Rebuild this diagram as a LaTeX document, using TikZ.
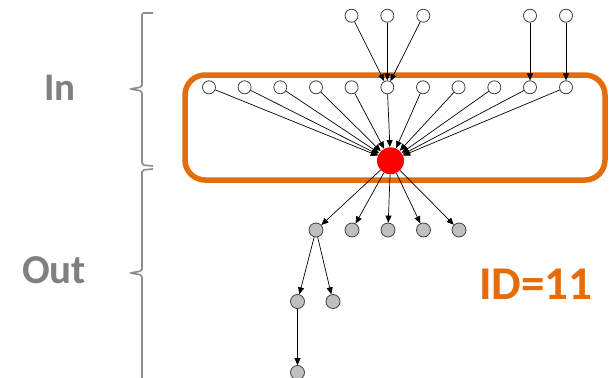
\documentclass[tikz,border=0pt]{standalone}
\usepackage{fontspec}
\setmainfont{Carlito}
\usetikzlibrary{arrows.meta}
\definecolor{accent}{RGB}{228,108,10}
\definecolor{labelgray}{RGB}{128,128,128}
\definecolor{bracegray}{RGB}{140,140,140}
\definecolor{outfill}{RGB}{191,191,191}
\tikzset{
  vnode/.style={circle, draw=black!75, line width=0.8pt, fill=white, inner sep=0pt, minimum size=13pt},
  onode/.style={circle, draw=black!75, line width=0.8pt, fill=outfill, inner sep=0pt, minimum size=14pt},
  hub/.style={circle, fill=red, inner sep=0pt, minimum size=27pt},
  edge/.style={draw=black, line width=0.7pt, -{Triangle[length=7pt,width=6pt]}},
  brace/.style={draw=bracegray, line width=1.6pt, rounded corners=2pt},
  lab/.style={text=labelgray, font=\bfseries\fontsize{39}{39}\selectfont},
}
\begin{document}
\begin{tikzpicture}[x=1pt, y=-1pt]
\useasboundingbox (0,0) rectangle (614,378);

% group frame
\draw[accent, line width=5.5pt, rounded corners=20pt] (185,75) rectangle (605,180);

% braces
\draw[brace] (153,13) -- (142,13) -- (142,87) -- (130,89) -- (142,91) -- (142,165) -- (153,166);
\draw[brace] (153,169) -- (142,170) -- (142,271) -- (130,273) -- (142,275) -- (142,380);

% side labels
\node[lab] (lin) at (60,88) {In};
\node[lab, font=\bfseries\fontsize{41}{41}\selectfont] (lout) at (54,270) {Out};
\node[text=accent, font=\bfseries\fontsize{47}{47}\selectfont] (lid) at (536,284.5) {ID=11};

% upstream nodes
\foreach \n/\x in {1/351.5, 2/387.3, 3/423.3, 4/530, 5/566}
  \node[vnode] (t\n) at (\x,15.7) {};

% predecessor row
\foreach \n/\x in {1/209, 2/244.6, 3/280.3, 4/316, 5/351.6, 6/387.3, 7/423, 8/458.6, 9/494.3, 10/530, 11/566}
  \node[vnode] (m\n) at (\x,87.3) {};

% central node
\node[hub] (r) at (390.5,160.8) {};

% successors
\foreach \n/\x in {1/316, 2/352, 3/388, 4/423.5, 5/459}
  \node[onode] (o\n) at (\x,230) {};
\node[onode] (p1) at (297.5,301.5) {};
\node[onode] (p2) at (333,301.5) {};
\node[onode] (q1) at (297.5,372.5) {};

% edges into the predecessor row
\draw[edge] (t1) -- (m6);
\draw[edge] (t2) -- (m6);
\draw[edge] (t3) -- (m6);
\draw[edge] (t4) -- (m10);
\draw[edge] (t5) -- (m11);

% edges into the central node
\foreach \n in {1,...,11}
  \draw[edge] (m\n) -- (r);

% edges out of the central node
\foreach \n in {1,...,5}
  \draw[edge] (r) -- (o\n);
\draw[edge] (o1) -- (p1);
\draw[edge] (o1) -- (p2);
\draw[edge] (p1) -- (q1);
\end{tikzpicture}
\end{document}
